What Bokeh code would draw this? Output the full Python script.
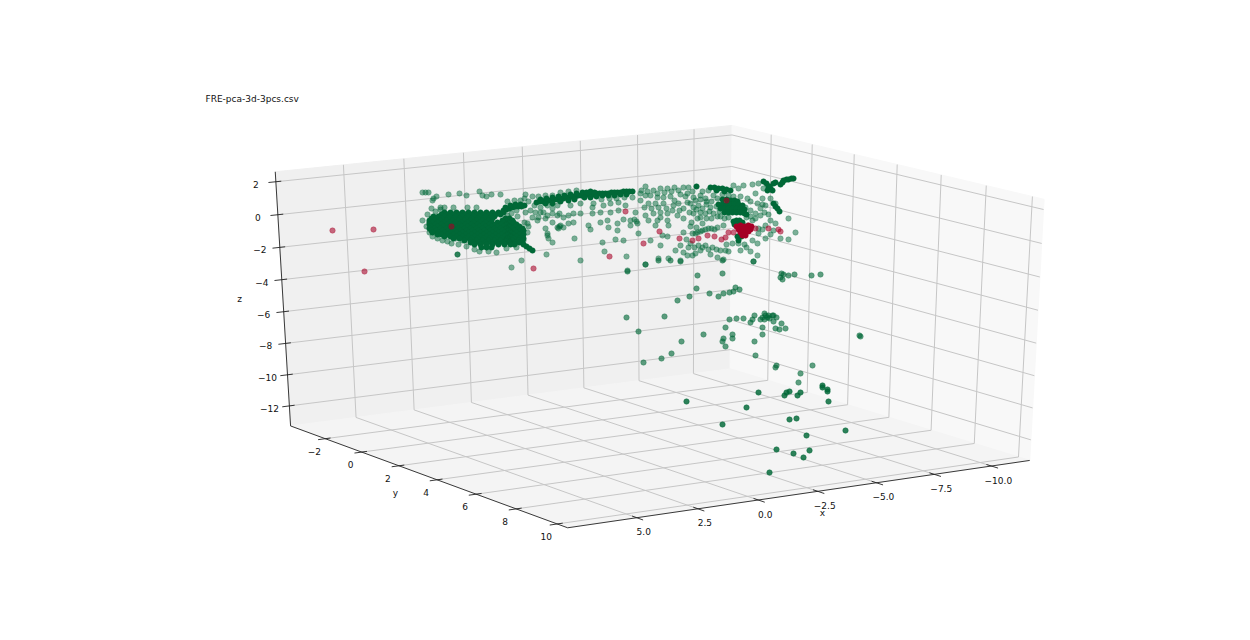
import numpy as np
from bokeh.plotting import figure
from bokeh.models import Range1d, ColumnDataSource
from bokeh.core.properties import value
from bokeh.embed import file_html
from bokeh.resources import INLINE

TITLE = "FRE-pca-3d-3pcs.csv"
x_ticks = [5.0, 2.5, 0.0, -2.5, -5.0, -7.5, -10.0]
y_ticks = [-2, 0, 2, 4, 6, 8, 10]
z_ticks = [2, 0, -2, -4, -6, -8, -10, -12]
x_lim = (-11.7, 7.78)
y_lim = (-3.95, 10.5)
z_lim = (-13.3, 2.6)

# calibration of the view: box corner -> where it falls in the picture
box_world = [(7.78, -3.95, -13.3), (7.78, -3.95, 2.6), (-11.7, -3.95, -13.3), (-11.7, -3.95, 2.6),
             (-11.7, 10.5, -13.3), (-11.7, 10.5, 2.6), (7.78, 10.5, -13.3)]
box_view = [(290, 426), (275, 171), (730, 368), (731, 125), (1029, 460), (1044, 199), (567, 527)]

# Points, in projected view coordinates.
far_green = [
 (422,192),(425,192),(428,192),(433,198),(436,196),(432,200),(448,194),(459,193),(466,195),(479,191),(482,195),(486,196),
 (491,194),(500,194),(514,200),(507,201),(525,194),(524,198),(532,196),(440,207),(444,207),(453,207),(467,207),(476,207),
 (422,220),(429,232),(447,241),(455,238),(462,240),(496,252),(521,260),(511,267),(546,254),(580,260),(602,242),(604,251),
 (593,203),(603,205),(592,207),(610,203),(618,202),(547,205),(557,205),(570,205),(580,203),(540,207),
 (525,212),(530,210),(535,212),(540,212),(532,217),(538,217),(543,212),(547,215),(552,208),(552,213),(557,215),(559,213),
 (563,217),(568,215),(573,213),(580,213),(592,213),(600,212),(610,212),(618,210),(625,205),(635,212),(645,215),(630,220),
 (637,223),(657,220),(660,217),(667,220),(668,225),(655,225),(648,220),(573,222),(568,223),(563,227),(560,225),(557,227),
 (558,228),(559,226),(552,222),(545,218),(527,223),(537,220),(588,225),(590,229),(600,222),(607,220),(608,227),(617,223),
 (623,219),(630,225),(636,221),(634,219),(545,228),(547,235),(547,233),(548,238),(552,242),(574,238),(617,230),(638,233),
 (615,239),(623,240),(650,240),(662,235),(667,236),(660,245),(668,258),(658,258),(645,264),(627,270),(626,256),(680,260),
 (687,255),(683,252),(692,255),(695,253),(700,250),(710,254),(717,257),(723,259),(728,251),(725,250),(720,250),(705,245),
 (698,245),(695,233),(702,230),(708,228),(717,227),(723,225),(750,251),(757,255),(753,261),(788,239),(795,232),(788,218),
 (758,233),(765,238),(773,230),
 (645,186),(641,190),(653,190),(660,188),(667,188),(674,187),(683,187),(688,187),(645,195),(650,195),(657,197),(663,197),
 (670,196),(680,194),(687,193),(693,197),(648,203),(655,203),(663,203),(673,205),(678,203),(687,202),(695,200),(693,207),
 (700,195),(708,190),(713,195),(722,194),(728,195),(733,185),(738,188),(743,185),(752,184),(758,183),(763,188),(755,193),
 (762,198),(770,198),(775,203),(683,218),(677,215),(672,210),(667,213),(660,212),(653,213),(693,213),(697,218),(702,223),
 (747,225),(752,220),(758,228),(765,225),(770,220),(775,223),
 (698,205),(702,208),(706,204),(710,207),(700,212),(705,213),(709,211),(713,213),(716,206),(717,216),(700,217),(706,218),
 (711,218),(696,209),(719,211),(745,207),(750,210),(755,213),(760,208),(765,205),
 (692,233),(697,232),(700,231),(705,229),(711,228),(714,229),(690,243),(694,247),(702,247),(708,249),(712,247),(716,249),
 # fringe round the large cloud and denser upper right
 (431,208),(435,211),(440,209),(427,214),(426,226),(432,236),(437,238),(442,240),(451,243),(458,244),(466,246),(474,249),
 (479,251),(488,251),(506,248),(516,247),(523,240),(527,232),(528,226),(524,222),(517,216),(511,213),(507,215),(516,210),
 (538,196),(545,195),(552,195),(560,192),(568,191),(576,190),(520,200),(528,201),(534,205),(601,199),(609,198),(616,198),
 (624,197),(632,197),(640,193),(647,191),(657,193),(664,192),(671,191),(678,190),(685,196),(692,191),(702,191),(705,198),
 (717,198),(733,196),(740,196),(747,198),(651,208),(658,207),(666,208),(674,200),(683,208),(689,212),(679,210),(691,222),
 (640,200),(644,207),(690,203),(700,199),(706,201),(711,201),(720,216),(724,218),(728,217),(746,217),(750,216),(755,218),
 (760,215),(764,212),(768,214),(757,203),(762,204),(750,201),(690,226),(696,227),(683,232),(686,239),(680,245),(688,247),
 (675,250),(726,244),(732,243),(738,243),(744,244),(752,240),(757,243),(740,250),(746,247),(762,229),(770,234),(780,238),
]
mid_green = [
 (697,275),(722,273),(696,288),(689,296),(677,300),(709,293),(718,296),(723,293),(729,292),(733,291),(735,287),(739,289),
 (626,317),(664,316),(638,331),(703,334),(681,341),(643,362),(661,358),(671,353),(725,327),(729,319),(736,318),(743,318),
 (750,322),(752,319),(754,315),(732,334),(732,338),(723,338),(722,341),(725,346),(754,341),(762,334),(762,327),(755,355),
 (775,328),(779,329),(785,328),(781,323),(776,317),(773,321),(764,313),(767,317),(769,318),(760,319),(762,317),(764,319),
 (772,315),(773,315),(768,315),(765,315),(781,273),(780,277),(782,279),(783,274),(788,275),(794,274),(811,275),(820,274),
 (859,335),(860,336),(775,367),(776,365),(812,365),(800,373),(798,382),
 (627,271),(645,264),(680,261),(722,260),(753,261),(658,260),(670,260),
]
near_green = [
 (758,392),(784,395),(786,392),(789,391),(797,395),(800,392),(822,385),(822,387),(827,389),(827,391),(828,401),(686,401),
 (746,407),(722,424),(789,419),(796,418),(806,435),(845,430),(776,449),(793,453),(809,450),(803,457),(769,472),(457,254),
]
blob_rows = [212, 214, 216, 218, 220, 222, 224, 226, 228, 230, 232, 234, 236, 238, 240, 242, 244, 247]
blob_cols = [
 [444,450,456,462,468,474,480,486,492,498,503],
 [441,447,453,459,465,471,477,483,489,495,500],
 [433,438,444,449,455,461,467,473,479,485,491,494],
 [431,436,441,447,453,459,465,471,477,483,489,492,505,509],
 [429,434,440,446,452,458,464,470,476,482,488,502,507,512],
 [429,432,437,443,449,455,461,467,473,479,485,491,497,503,509,513],
 [429,435,441,447,453,459,465,471,477,483,489,495,501,506,512,516],
 [430,437,443,449,455,461,467,473,479,485,491,497,503,509,515,519],
 [429,434,440,446,452,458,464,470,476,482,488,494,500,506,512,518,522],
 [431,436,442,448,454,460,466,472,478,484,490,496,502,508,514,520,523],
 [432,438,444,450,456,462,468,474,480,486,492,498,504,510,516,522],
 [437,441,447,453,459,465,471,477,483,489,495,501,507,513,519,523],
 [444,450,456,462,468,474,480,486,492,498,504,510,516,522],
 [453,459,465,471,477,483,489,495,501,507,513,519,523],
 [464,470,476,482,488,494,500,506,512,518,522],
 [470,473,479,485,491,497,503,509,515,519],
 [474,480,486,492,498,504,510,514],
 [481,486,491],
]
streaks_green = [
 (523,244),(526,246),(529,248),(532,250),
 (536,202),(539,201),(542,201),(545,200),(548,200),(551,200),(554,199),(557,199),(560,198),(563,198),(566,197),(569,197),
 (572,196),(575,196),(578,195),(581,195),(584,194),(587,194),(590,194),(593,194),(596,193),(599,193),(602,193),(605,193),
 (608,193),(611,192),(614,192),(617,192),(620,192),(623,191),(626,191),(629,191),(632,191),(582,192),(586,192),(590,191),
 (594,192),(584,197),(590,197),(596,196),(545,203),(552,203),(560,201),(568,200),(574,199),
 (540,199),(546,198),(552,197),(558,196),(564,195),(570,194),(576,193),(602,195),(608,195),(614,195),(620,194),(626,194),
 (503,210),(506,209),(509,208),(512,207),(515,206),(518,206),(521,206),(524,205),(505,207),(510,205),(515,204),(520,204),
 (780,184),(782,182),(783,180),(786,179),(788,179),(791,178),(793,178),
 (763,181),(766,183),(768,186),(770,188),(772,190),(775,182),(773,183),(769,186),(767,190),
 (710,187),(714,187),(718,188),(722,188),(726,189),(730,190),(716,190),(724,191),(696,186),
 (722,199),(726,199),(730,200),(734,200),(737,201),
 (718,204),(722,204),(726,204),(730,204),(734,204),(738,204),(742,205),(720,208),(724,208),(728,208),(732,208),(736,208),
 (740,208),(744,209),(724,212),(728,212),(732,212),(736,212),(740,212),(744,213),(746,214),
 (733,221),(736,220),(739,220),(742,222),(734,224),(738,224),(742,225),(737,236),(741,236),(738,240),
 (773,203),(775,206),(777,208),(779,211),
]
faint_red = [
 (332,230),(373,229),(364,271),(451,226),(533,268),(609,256),(625,211),(643,243),(659,231),(679,238),(692,240),(698,238),
 (707,235),(714,236),(721,239),(725,237),(728,232),(733,232),(755,228),(768,228),(778,229),(780,231),(726,200),
]
solid_red = [
 (736,226),(740,225),(744,226),(748,225),(751,226),(738,229),(742,229),(746,229),(750,229),(740,232),(744,232),(748,231),
 (742,235),(745,235),
]

# fit the projective camera to the box corners
rows = []
for (X, Y, Z), (u, v) in zip(box_world, box_view):
    rows.append([X, Y, Z, 1, 0, 0, 0, 0, -u*X, -u*Y, -u*Z, -u])
    rows.append([0, 0, 0, 0, X, Y, Z, 1, -v*X, -v*Y, -v*Z, -v])
P = np.linalg.svd(np.array(rows, dtype=float))[2][-1].reshape(3, 4)

def proj(X, Y, Z):
    h = P @ np.array([X, Y, Z, 1.0])
    return float(h[0]/h[2]), float(h[1]/h[2])

x0, x1 = x_lim
y0, y1 = y_lim
z0, z1 = z_lim

p = figure(width=1234, height=624, x_range=Range1d(0, 1234), y_range=Range1d(624, 0),
           output_backend="svg", toolbar_location=None, min_border=0, outline_line_color=None)
p.xaxis.visible = False
p.yaxis.visible = False
p.grid.visible = False

def pane(corners, color):
    pts = [proj(*c) for c in corners]
    p.patch([a for a, _ in pts], [b for _, b in pts], fill_color=color, line_color=color, line_width=1)

pane([(x1, y0, z0), (x1, y0, z1), (x0, y0, z1), (x0, y0, z0)], "#f0f0f0")
pane([(x0, y0, z0), (x0, y0, z1), (x0, y1, z1), (x0, y1, z0)], "#f8f8f8")
pane([(x1, y0, z0), (x0, y0, z0), (x0, y1, z0), (x1, y1, z0)], "#f4f4f4")

def path(points, **kw):
    pts = [proj(*c) for c in points]
    p.line([a for a, _ in pts], [b for _, b in pts], **kw)

grid = dict(line_color="#c6c6c6", line_width=1)
for t in x_ticks:
    path([(t, y1, z0), (t, y0, z0), (t, y0, z1)], **grid)
for t in y_ticks:
    path([(x1, t, z0), (x0, t, z0), (x0, t, z1)], **grid)
for t in z_ticks:
    path([(x1, y0, t), (x0, y0, t), (x0, y1, t)], **grid)

axis = dict(line_color="#222222", line_width=0.9)
path([(x1, y0, z1), (x1, y0, z0), (x1, y1, z0), (x0, y1, z0)], **axis)
for t in x_ticks:
    path([(t, y1 - 0.22, z0), (t, y1 + 0.3, z0)], **axis)
for t in y_ticks:
    path([(x1 - 0.22, t, z0), (x1 + 0.3, t, z0)], **axis)
for t in z_ticks:
    path([(x1 - 0.22, y0, t), (x1 + 0.3, y0, t)], **axis)

font = dict(text_font=value("DejaVu Sans"), text_font_size="9px", text_color="#111111")

def fmt(v, dec):
    s = f"{abs(v):.{dec}f}"
    return ("\u2212" + s) if v < 0 else s

def tick_labels(points, labels, dx, dy):
    xy = [proj(*c) for c in points]
    src = ColumnDataSource(dict(x=[a + dx for a, _ in xy], y=[b + dy for _, b in xy], t=labels))
    p.text("x", "y", "t", source=src, text_align="center", text_baseline="middle", **font)

tick_labels([(t, y1, z0) for t in x_ticks], [fmt(t, 1) for t in x_ticks], 7, 14)
tick_labels([(x1, t, z0) for t in y_ticks], [fmt(t, 0) for t in y_ticks], -11, 12.5)
tick_labels([(x1, y0, t) for t in z_ticks], [fmt(t, 0) for t in z_ticks], -20, 2.5)

p.text([822], [512.5], ["x"], text_align="center", text_baseline="middle", **font)
p.text([395], [492.5], ["y"], text_align="center", text_baseline="middle", **font)
p.text([239], [298.5], ["z"], text_align="center", text_baseline="middle", **font)
p.text([205], [98], [TITLE], text_align="left", text_baseline="middle", **font)

GREEN = "#006837"
RED = "#a50026"

def dots(pts, color, alpha):
    p.scatter([a for a, _ in pts], [b for _, b in pts], size=5.5, marker="circle",
              fill_color=color, line_color=color, line_width=0.5, fill_alpha=alpha, line_alpha=alpha)

blob = [(c, r) for r, cols in zip(blob_rows, blob_cols) for c in cols]
dots(far_green, GREEN, 0.5)
dots(mid_green, GREEN, 0.62)
dots(near_green, GREEN, 0.82)
dots(blob, GREEN, 1.0)
dots(streaks_green, GREEN, 1.0)
dots(faint_red, RED, 0.58)
dots(solid_red, RED, 1.0)

open("out.html", "w").write(file_html(p, INLINE))
